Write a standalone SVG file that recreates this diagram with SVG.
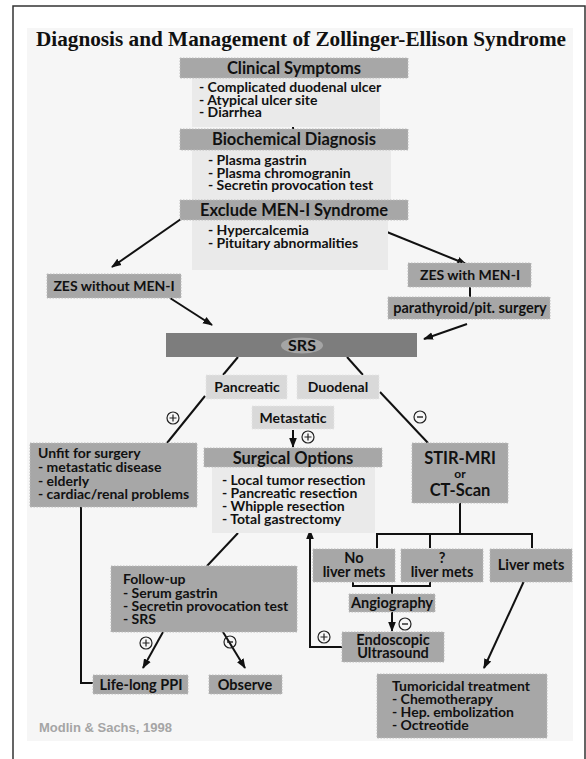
<svg xmlns="http://www.w3.org/2000/svg" width="586" height="759" viewBox="0 0 586 759">
<defs>
<marker id="ah" markerUnits="userSpaceOnUse" markerWidth="10" markerHeight="10" refX="9" refY="5" orient="auto">
<path d="M0,1.2 L10,5 L0,8.8 Z" fill="#111"/>
</marker>
<g id="plus"><circle r="6" fill="none" stroke="#222" stroke-width="1.2"/><path d="M-3.5,0 H3.5 M0,-3.5 V3.5" stroke="#222" stroke-width="1.2"/></g>
<g id="minus"><circle r="6" fill="none" stroke="#222" stroke-width="1.2"/><path d="M-3,0 H3" stroke="#222" stroke-width="1.4"/></g>
</defs>
<style>
.hd{fill:#a7a7a7;stroke:#bcbcbc;stroke-width:1;stroke-dasharray:1.5 1.5}
.lt{fill:#d9d9d9;stroke:#e6e6e6;stroke-width:1;stroke-dasharray:1.5 1.5}
.pn{fill:#eaeaea}
.t{font-family:Lato,"Open Sans",sans-serif;font-weight:bold;fill:#111}
.h{font-size:16.5px}
.i{font-size:14px}
.b{font-size:14.5px}
.c{text-anchor:middle}
.ln{stroke:#111;stroke-width:2;fill:none}
.ar{stroke:#111;stroke-width:2;fill:none;marker-end:url(#ah)}
</style>
<rect x="0" y="0" width="586" height="759" fill="#fff"/>
<path d="M13,759 V6 H585 V759" fill="none" stroke="#333" stroke-width="1.5"/>
<rect x="27" y="28" width="546" height="713" fill="#f6f6f6"/>
<text x="301" y="46" text-anchor="middle" font-family="'Liberation Serif',serif" font-weight="bold" font-size="21" fill="#111" textLength="530" lengthAdjust="spacingAndGlyphs">Diagnosis and Management of Zollinger-Ellison Syndrome</text>

<g id="connectors">
<path class="ln" d="M293,119 V129"/>
<path class="ar" d="M181,219 L112,267"/>
<path class="ar" d="M382,230 L466,264"/>
<path class="ar" d="M170,298 L212,325"/>
<path class="ln" d="M470,287 V297"/>
<path class="ar" d="M467,324 L424,339"/>
<path class="ln" d="M238,357 L223,375"/>
<path class="ln" d="M347,357 L363,375"/>
<path class="ln" d="M205,396 L167,443"/>
<path class="ln" d="M380,392 L428,443"/>
<path class="ar" d="M293,430 V447"/>
<path class="ln" d="M81,507 V683 H93"/>
<path class="ln" d="M238,533 L207,566"/>
<path class="ar" d="M342,647 H310 V530"/>
<path class="ln" d="M460,503 V534 M377,548 V534 H532 V548 M430,534 V548"/>
<path class="ln" d="M353,582 V586 H430 V582 M392,586 V594"/>
<path class="ar" d="M392,612 V631"/>
<path class="ar" d="M524,581 L484,668"/>
<path class="ar" d="M163,632 L143,668"/>
<path class="ar" d="M223,632 L245,668"/>
<use href="#plus" x="173" y="418"/>
<use href="#minus" x="420" y="417"/>
<use href="#plus" x="308" y="437"/>
<use href="#plus" x="324" y="637"/>
<use href="#minus" x="405" y="624"/>
<use href="#plus" x="146" y="643"/>
<use href="#minus" x="230" y="642"/>
</g>

<g id="clinical">
<rect class="pn" x="192" y="78" width="188" height="49"/>
<rect class="hd" x="180" y="58" width="228" height="20"/>
<text class="t h c" x="294" y="74">Clinical Symptoms</text>
<text class="t i"><tspan x="199" y="92">- Complicated duodenal ulcer</tspan><tspan x="199" y="104.5">- Atypical ulcer site</tspan><tspan x="199" y="117">- Diarrhea</tspan></text>
</g>
<g id="biochemical">
<rect class="pn" x="192" y="150" width="199" height="50"/>
<rect class="hd" x="180" y="129" width="228" height="21"/>
<text class="t h c" x="294" y="145">Biochemical Diagnosis</text>
<text class="t i"><tspan x="208" y="165">- Plasma gastrin</tspan><tspan x="208" y="177.5">- Plasma chromogranin</tspan><tspan x="208" y="190">- Secretin provocation test</tspan></text>
</g>
<g id="exclude">
<rect class="pn" x="192" y="220" width="196" height="50"/>
<rect class="hd" x="180" y="200" width="228" height="20"/>
<text class="t h c" x="294" y="216">Exclude MEN-I Syndrome</text>
<text class="t i"><tspan x="208" y="235">- Hypercalcemia</tspan><tspan x="208" y="247.5">- Pituitary abnormalities</tspan></text>
</g>
<g id="zes-without">
<rect class="hd" x="47" y="274" width="134" height="24"/>
<text class="t c" font-size="14" x="114" y="291">ZES without MEN-I</text>
</g>
<g id="zes-with">
<rect class="hd" x="408" y="263" width="123" height="24"/>
<text class="t c" font-size="14" x="470" y="280">ZES with MEN-I</text>
</g>
<g id="parathyroid">
<rect class="hd" x="388" y="297" width="162" height="22"/>
<text class="t c" font-size="14.5" x="470" y="313">parathyroid/pit. surgery</text>
</g>
<g id="srs">
<rect x="166" y="333" width="251" height="24" fill="#7d7d7d"/>
<ellipse cx="302" cy="345.5" rx="21" ry="8" fill="#a5a5a5"/>
<text class="t c" font-size="16" x="302" y="351">SRS</text>
</g>
<g id="pancreatic">
<rect class="lt" x="206" y="375" width="81" height="24"/>
<text class="t c" font-size="14" x="247" y="392">Pancreatic</text>
</g>
<g id="duodenal">
<rect class="lt" x="297" y="375" width="82" height="24"/>
<text class="t c" font-size="14" x="338" y="392">Duodenal</text>
</g>
<g id="metastatic">
<rect class="lt" x="252" y="406" width="82" height="23"/>
<text class="t c" font-size="14" x="293" y="423">Metastatic</text>
</g>
<g id="unfit">
<rect class="hd" x="30" y="443" width="167" height="64"/>
<text class="t i"><tspan x="38" y="458">Unfit for surgery</tspan><tspan x="38" y="472">- metastatic disease</tspan><tspan x="38" y="485.5">- elderly</tspan><tspan x="38" y="499">- cardiac/renal problems</tspan></text>
</g>
<g id="surgical">
<rect class="pn" x="212" y="467" width="163" height="66"/>
<rect class="hd" x="204" y="448" width="178" height="19"/>
<text class="t h c" x="293" y="463.5">Surgical Options</text>
<text class="t i"><tspan x="222" y="485">- Local tumor resection</tspan><tspan x="222" y="498">- Pancreatic resection</tspan><tspan x="222" y="511">- Whipple resection</tspan><tspan x="222" y="524">- Total gastrectomy</tspan></text>
</g>
<g id="stir">
<rect class="hd" x="412" y="443" width="96" height="60"/>
<text class="t c" font-size="16.5"><tspan x="460" y="464">STIR-MRI</tspan><tspan x="460" y="478" font-size="12">or</tspan><tspan x="460" y="496">CT-Scan</tspan></text>
</g>
<g id="no-liver">
<rect class="hd" x="313" y="549" width="82" height="33"/>
<text class="t b c"><tspan x="354" y="563">No</tspan><tspan x="354" y="577">liver mets</tspan></text>
</g>
<g id="q-liver">
<rect class="hd" x="401" y="549" width="82" height="33"/>
<text class="t b c"><tspan x="442" y="563">?</tspan><tspan x="442" y="577">liver mets</tspan></text>
</g>
<g id="liver-mets">
<rect class="hd" x="490" y="549" width="82" height="33"/>
<text class="t b c" x="531" y="570">Liver mets</text>
</g>
<g id="angiography">
<rect class="hd" x="349" y="594" width="86" height="18"/>
<text class="t b c" x="392" y="608">Angiography</text>
</g>
<g id="endoscopic">
<rect class="hd" x="342" y="632" width="102" height="30"/>
<text class="t b c"><tspan x="393" y="645">Endoscopic</tspan><tspan x="393" y="658">Ultrasound</tspan></text>
</g>
<g id="follow-up">
<rect class="hd" x="111" y="566" width="186" height="66"/>
<text class="t i"><tspan x="123" y="584">Follow-up</tspan><tspan x="123" y="597.5">- Serum gastrin</tspan><tspan x="123" y="611">- Secretin provocation test</tspan><tspan x="123" y="624">- SRS</tspan></text>
</g>
<g id="ppi">
<rect class="hd" x="93" y="675" width="95" height="19"/>
<text class="t b c" x="141" y="689.5">Life-long PPI</text>
</g>
<g id="observe">
<rect class="hd" x="209" y="675" width="73" height="19"/>
<text class="t b c" x="245" y="689.5">Observe</text>
</g>
<g id="tumoricidal">
<rect class="hd" x="377" y="674" width="170" height="64"/>
<text class="t i"><tspan x="392" y="691">Tumoricidal treatment</tspan><tspan x="392" y="704">- Chemotherapy</tspan><tspan x="392" y="717">- Hep. embolization</tspan><tspan x="392" y="729.5">- Octreotide</tspan></text>
</g>
<text x="39" y="732" font-family="'Liberation Sans',Arial,sans-serif" font-weight="bold" font-size="13" fill="#a5a5a5">Modlin &amp; Sachs, 1998</text>
</svg>
